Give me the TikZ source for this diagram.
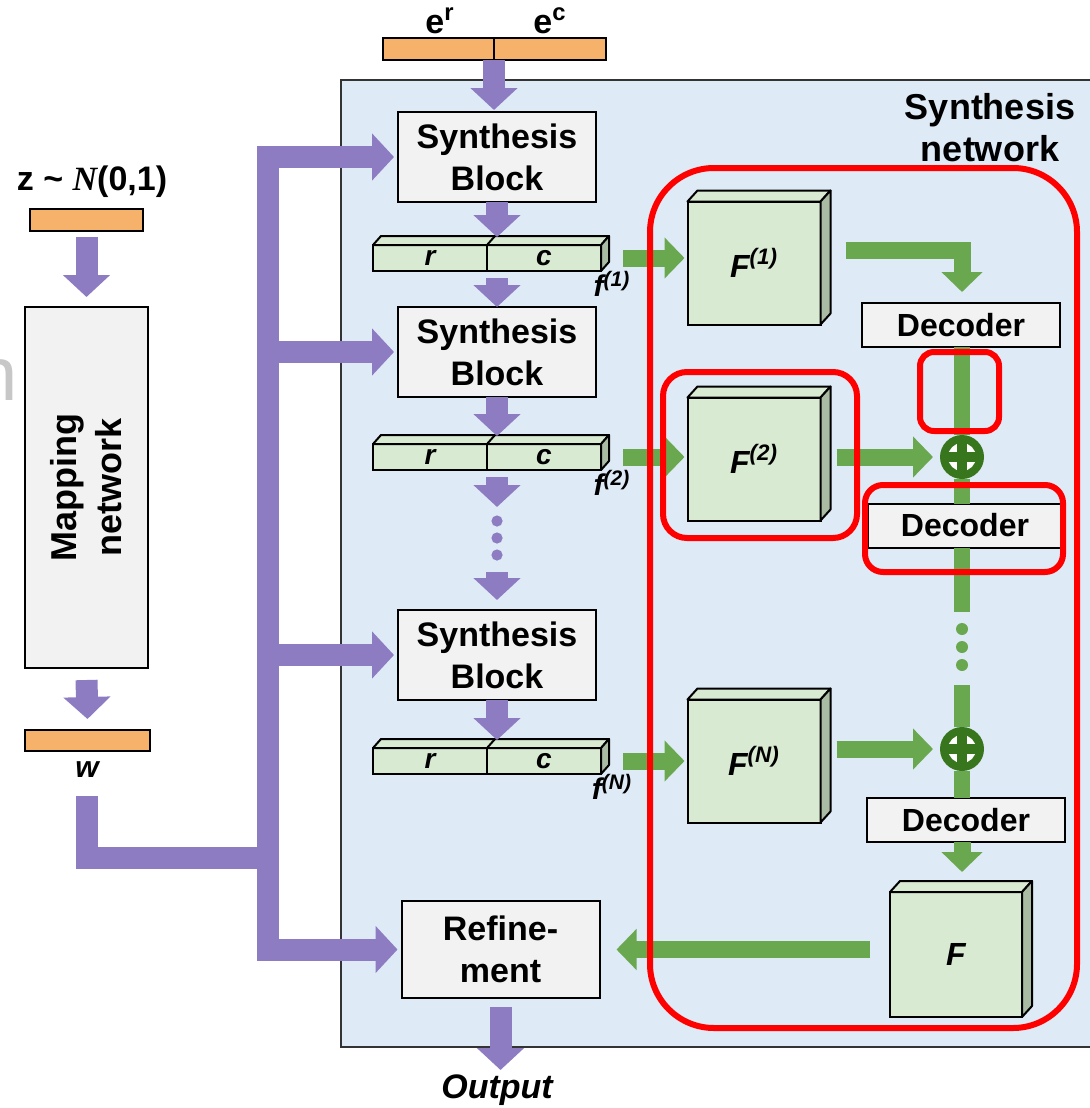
\documentclass[tikz,border=0pt]{standalone}
\usepackage{fontspec}
\setmainfont{Liberation Sans}
\newfontfamily\serifit{Liberation Serif}
\usetikzlibrary{arrows.meta,positioning}

\definecolor{bgblue}{HTML}{DEEAF6}
\definecolor{boxgrey}{HTML}{F2F2F2}
\definecolor{barorange}{HTML}{F6B26B}
\definecolor{featgreen}{HTML}{D9EAD3}
\definecolor{featside}{HTML}{A9BBA2}
\definecolor{arrowpurple}{HTML}{8E7CC3}
\definecolor{arrowgreen}{HTML}{6AA84F}
\definecolor{plusgreen}{HTML}{38761D}

\tikzset{
  lab/.style={inner sep=0pt, font=\fontsize{17}{20}\selectfont\bfseries},
  blockbox/.style={draw, line width=1pt, fill=boxgrey, minimum width=99pt, minimum height=45pt,
    align=center, inner sep=0pt, outer sep=0pt, font=\fontsize{17}{21}\selectfont\bfseries},
  decoderbox/.style={draw, line width=1pt, fill=boxgrey, minimum width=99pt, minimum height=22pt,
    inner sep=0pt, outer sep=0pt, font=\fontsize{16}{18}\selectfont\bfseries},
  inbar/.style={draw, line width=1pt, fill=barorange, inner sep=0pt, outer sep=0pt},
  featbox/.style={draw, line width=1pt, fill=featgreen, minimum width=57pt, minimum height=13pt,
    inner sep=0pt, outer sep=0pt, font=\fontsize{14}{14}\selectfont\bfseries\itshape},
  fmapbox/.style={draw, line width=1pt, fill=featgreen, minimum width=66.5pt, minimum height=61.5pt,
    inner sep=0pt, outer sep=0pt, font=\fontsize{16}{16}\selectfont\bfseries\itshape},
  parrow/.style={draw=arrowpurple, line width=11pt, -{Triangle[width=23pt,length=11pt]}},
  pline/.style={draw=arrowpurple, line width=11pt},
  garrow/.style={draw=arrowgreen, line width=8.5pt, -{Triangle[width=20pt,length=10pt]}},
  gline/.style={draw=arrowgreen, line width=8pt},
  plusnode/.style={circle, fill=plusgreen, minimum size=22pt, inner sep=0pt, outer sep=0pt,
    path picture={
      \fill[white] (path picture bounding box.center) circle (7pt);
      \fill[plusgreen] ([shift={(-8pt,-2.5pt)}]path picture bounding box.center) rectangle ++(16pt,5pt);
      \fill[plusgreen] ([shift={(-2.5pt,-8pt)}]path picture bounding box.center) rectangle ++(5pt,16pt);}},
  redbox/.style={draw=red, line width=3pt},
}

% top and side faces of a block, from node #1 to node #2
\newcommand{\boxdepth}[4]{%
  \filldraw[fill=featgreen, line width=1pt, line join=round] (#1.north west) -- ++(#3,#4)
    -- ([shift={(#3,#4)}]#2.north east) -- (#2.north east) -- cycle;
  \filldraw[fill=featside, line width=1pt, line join=round] (#2.north east) -- ++(#3,#4)
    -- ([shift={(#3,#4)}]#2.south east) -- (#2.south east) -- cycle;
}

\begin{document}
\begin{tikzpicture}[x=0.5pt,y=-0.5pt]
  \useasboundingbox (0,0) rectangle (1089,1108);
  % Synthesis network area
  \draw[fill=bgblue, draw=black!80, line width=0.75pt] (341,80) rectangle (1100,1047);
  \node[lab, align=center, font=\fontsize{18}{21}\selectfont\bfseries] (synlab) at (990,128) {Synthesis\\network};
  \node[text=black!22, inner sep=0pt, font=\fontsize{38}{38}\selectfont] (cut) at (-3,380) {n};

  % Mapping network
  \node[lab] (zlab) at (92,182) {z \textasciitilde{} {\serifit\itshape N}(0,1)};
  \node[inbar, minimum width=56.5pt, minimum height=11pt] (zbar) at (86.5,220) {};
  \node[blockbox, minimum width=61.5pt, minimum height=180.5pt] (map) at (86.5,487.5) {};
  \node[lab, rotate=90, align=center, font=\fontsize{18}{22.5}\selectfont\bfseries] at (map) {Mapping\\network};
  \node[inbar, minimum width=62.5pt, minimum height=10.5pt] (wbar) at (87.5,740.5) {};
  \node[lab, font=\fontsize{15}{18}\selectfont\bfseries\itshape] (wlab) at (87,770) {w};
  \draw[parrow] ([yshift=-3pt]zbar.south) -- ([yshift=5pt]map.north);
  \draw[parrow] ([yshift=-6pt]map.south) -- ([yshift=5.5pt]wbar.north);

  % Synthesis blocks
  \node[blockbox] (sb1) at (497,157) {Synthesis\\Block};
  \node[blockbox] (sb2) at (497,352) {Synthesis\\Block};
  \node[blockbox] (sb3) at (497,655) {Synthesis\\Block};
  \node[blockbox, minimum height=48.5pt] (refine) at (500.5,949.5) {Refine-\\ment};
  \node[lab, font=\fontsize{17}{20}\selectfont\bfseries\itshape] (out) at (497,1090) {Output};

  % e^r e^c input
  \node[inbar, minimum width=55.5pt, minimum height=11pt] (er) at (438.5,49) {};
  \node[inbar, minimum width=56pt, minimum height=11pt, right=0pt of er] (ec) {};
  \node[lab, anchor=base] (erlab) at (440,33) {e\textsuperscript{r}};
  \node[lab, anchor=base] (eclab) at (550,33) {e\textsuperscript{c}};

  % Feature bars
  \foreach \i/\y/\s in {1/258/1, 2/457/2, 3/761/N} {
    \node[featbox] (r\i) at (430,\y) {r};
    \node[featbox, right=0pt of r\i] (c\i) {c};
    \boxdepth{r\i}{c\i}{4pt}{4.5pt}
    \draw[line width=1pt] (r\i.north east) -- ++(4pt,4.5pt);
    \node[lab, font=\fontsize{15}{15}\selectfont\bfseries\itshape] (flab\i) at (612,\y+26) {f\textsuperscript{(\s)}};
  }

  % Feature maps
  \node[fmapbox] (fm1) at (754,263) {F\textsuperscript{(1)}};
  \node[fmapbox] (fm2) at (754,459) {F\textsuperscript{(2)}};
  \node[fmapbox] (fmN) at (754,761) {F\textsuperscript{(N)}};
  \node[fmapbox, minimum width=66pt, minimum height=62.5pt] (fall) at (956,954.5) {F};
  \foreach \f in {fm1,fm2,fmN,fall} {\boxdepth{\f}{\f}{5pt}{5.5pt}}

  % Decoders and sums
  \node[decoderbox] (d1) at (961,325) {Decoder};
  \node[decoderbox, minimum width=97pt] (d2) at (965,525.5) {Decoder};
  \node[decoderbox] (d3) at (966,820) {Decoder};
  \node[plusnode] (p1) at (962,457) {};
  \node[plusnode] (p2) at (962,749) {};

  % Green path
  \draw[gline] (p1 |- d1.south) -- (p1.north);
  \draw[gline] (p1.south) -- (p1 |- d2.north);
  \draw[gline] (p1 |- d2.south) -- ++(0,64);
  \foreach \y in {629,647,665} \fill[arrowgreen] (962,\y) circle (3pt);
  \draw[gline] (p2.north) -- ++(0,-42);
  \draw[gline] (p2.south) -- (p2 |- d3.north);
  \draw[garrow, shorten >=10pt] (p2 |- d3.south) -- (p2 |- fall.north);
  \draw[garrow, shorten >=5.5pt] ([shift={(12.5pt,6.5pt)}]fm1.east) -| (p1 |- d1.north);
  \draw[garrow, shorten >=3.5pt] ([xshift=8pt]fm2.east |- p1) -- (p1.west);
  \draw[garrow, shorten >=3.5pt] ([xshift=8pt]fmN.east |- p2) -- (p2.west);
  \draw[garrow, shorten >=8.5pt] ([xshift=-10pt]fall.west |- refine) -- (refine.east);
  \foreach \i/\f in {1/fm1, 2/fm2, 3/fmN}
    \draw[garrow, shorten >=1.5pt] ([xshift=11pt]c\i.east) -- (\f.west |- c\i.east);

  % Purple path
  \draw[parrow, shorten >=1pt] (er.south east) -- (er.south east |- sb1.north);
  \draw[parrow] (sb1.south) -- ([yshift=4pt]r1.north -| sb1.south);
  \draw[parrow] ([yshift=-3.5pt]r1.south -| sb2.north) -- (sb2.north);
  \draw[parrow] (sb2.south) -- ([yshift=4pt]r2.north -| sb2.south);
  \draw[parrow] ([yshift=-3.5pt]r2.south -| sb2.north) -- ++(0,30);
  \foreach \y in {521,538,555} \fill[arrowpurple] (497,\y) circle (2.8pt);
  \draw[parrow] ([yshift=19pt]sb3.north) -- ([yshift=5pt]sb3.north);
  \draw[parrow] (sb3.south) -- ([yshift=4pt]r3.north -| sb3.south);
  \draw[parrow] ([yshift=-4.5pt]refine.south) -- ++(0,63);

  % w to every block
  \coordinate (bus) at (268,0);
  \coordinate (wturn) at (268,858);
  \draw[pline] ([yshift=-9pt]wlab.south) |- (wturn);
  \draw[parrow] (bus |- refine.west) |- ([xshift=-2pt]sb1.west);
  \draw[parrow] (bus |- sb1.west) |- ([xshift=-2pt]refine.west);
  \foreach \b in {sb2,sb3}
    \draw[parrow] (bus |- \b.west) -- ([xshift=-2pt]\b.west);

  % Highlights
  \draw[redbox, rounded corners=32pt] (650,168) rectangle (1077,1028);
  \draw[redbox, rounded corners=12pt] (663,372) rectangle (857,538);
  \draw[redbox, rounded corners=7pt] (920,352) rectangle (999,431);
  \draw[redbox, rounded corners=9pt] (865,485) rectangle (1063,572);
\end{tikzpicture}
\end{document}
